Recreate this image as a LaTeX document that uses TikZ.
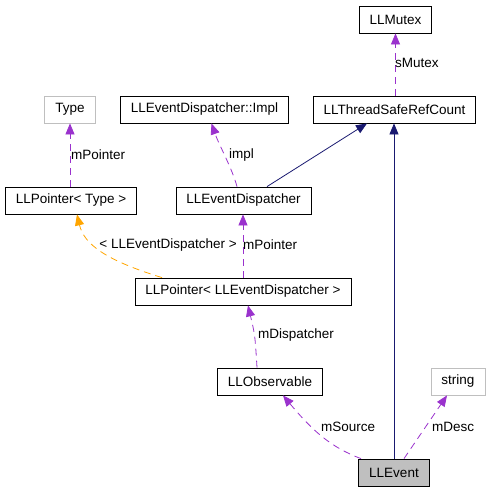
\documentclass[tikz,border=0pt]{standalone}
\usepackage{fontspec}
\setmainfont{Liberation Sans}
\definecolor{memberpurple}{RGB}{154, 50, 205}
\definecolor{basenavy}{RGB}{25, 25, 112}
\definecolor{tmplorange}{RGB}{255, 165, 0}
\definecolor{boxgray}{RGB}{191, 191, 191}
\usetikzlibrary{arrows.meta}

\begin{document}
\begin{tikzpicture}[x=1pt, y=-1pt,
                    font=\fontsize{13.5pt}{16pt}\selectfont,
                    cls/.style={draw, line width=0.8pt, minimum height=27pt, inner xsep=10.5pt, inner ysep=0pt},
                    ext/.style={cls, draw=boxgray},
                    lbl/.style={anchor=west, inner sep=0pt},
                    member/.style={memberpurple, line width=0.8pt, dash pattern=on 7pt off 5pt, -{Triangle[length=11pt, width=9pt]}},
                    inherit/.style={basenavy, line width=0.8pt, -{Triangle[length=11pt, width=9pt]}},
                    tmpl/.style={member, tmplorange}]
                    \useasboundingbox (0, 0) rectangle (489, 491);
                    \node[cls] (mutex) at (395.5, 19.5) {LLMutex};
                    \node[cls] (tsrc) at (394.5, 109.5) {LLThreadSafeRefCount};
                    \node[ext] (type) at (70, 109.5) {Type};
                    \node[cls] (impl) at (204.5, 109.5) {LLEventDispatcher::Impl};
                    \node[cls] (ptrtype) at (71, 200.5) {LLPointer< Type >};
                    \node[cls] (disp) at (243.5, 200.5) {LLEventDispatcher};
                    \node[cls] (ptrdisp) at (243, 291.5) {LLPointer< LLEventDispatcher >};
                    \node[cls] (obs) at (270, 381.5) {LLObservable};
                    \node[ext] (str) at (458, 381.5) {string};
                    \node[cls, fill=boxgray] (ev) at (394, 472.5) {LLEvent};
                    \draw[member] (tsrc.north -| mutex.south) -- (mutex.south);
                    \draw[member] (ptrtype.north -| type.south) -- (type.south);
                    \draw[member] ([xshift=-6.5pt]disp.north) .. controls (232, 168) and (219, 145) .. ([xshift=7pt]impl.south);
                    \draw[inherit] ([xshift=23.5pt]disp.north) -- ([xshift=-27.5pt]tsrc.south);
                    \draw[inherit] (ev.north) -- (ev.north |- tsrc.south);
                    \draw[tmpl] ([xshift=-81pt]ptrdisp.north) .. controls (105, 260) and (84, 244) .. ([xshift=6pt]ptrtype.south);
                    \draw[member] (ptrdisp.north) -- (ptrdisp.north |- disp.south);
                    \draw[member] ([xshift=-13pt]obs.north) .. controls (255, 335) .. ([xshift=5pt]ptrdisp.south);
                    \draw[member] ([xshift=-33pt]ev.north) .. controls (330, 447) and (312, 430) .. ([xshift=13pt]obs.south);
                    \draw[member] ([xshift=10pt]ev.north) -- ([xshift=-11pt]str.south);
                    \node[lbl] (lsmutex) at (395, 63) {sMutex};
                    \node[lbl] (lptrtype) at (71, 155) {mPointer};
                    \node[lbl] (limpl) at (229, 155) {impl};
                    \node[lbl, anchor=east] (ltmpl) at (237, 245) {< LLEventDispatcher >};
                    \node[lbl] (lptrdisp) at (243, 245) {mPointer};
                    \node[lbl] (ldisp) at (258, 335) {mDispatcher};
                    \node[lbl] (lsource) at (321, 427) {mSource};
                    \node[lbl] (ldesc) at (432, 427) {mDesc};
                \end{tikzpicture}
\end{document}
